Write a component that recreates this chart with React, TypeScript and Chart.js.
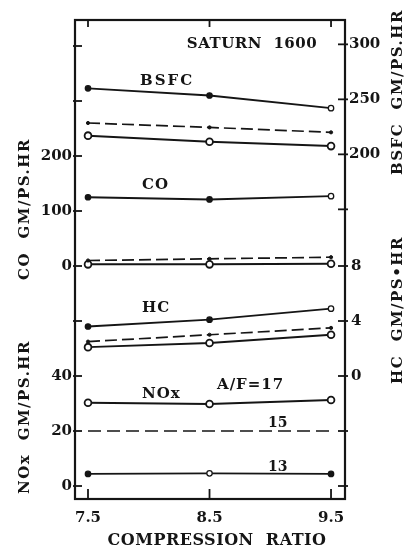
import { useEffect, useRef } from 'react';
import { Chart, registerables } from 'chart.js';

Chart.register(...registerables);

// ---- data ----
const compressionRatio = [7.5, 8.5, 9.5];

const bsfcAF13 = [260, 253.5, 242];
const bsfcAF15 = [228.5, 224.5, 220];
const bsfcAF17 = [217, 211.5, 207.5];

const coAF13 = [125, 121, 127];
const coAF15 = [10, 13, 16];
const coAF17 = [3, 3, 4];

const hcAF13 = [3.6, 4.1, 4.9];
const hcAF15 = [2.5, 3.0, 3.5];
const hcAF17 = [2.1, 2.4, 3.0];

const noxAF13 = [4.4, 4.6, 4.4];
const noxAF15 = [20, 20, 20];
const noxAF17 = [30.3, 29.8, 31.3];

// ---- tick labels / marks ----
const xTicks = [7.5, 8.5, 9.5];
const coTickLabels = [0, 100, 200];
const coTickMarks = [0, 100, 200, 300, 400];
const noxTickLabels = [0, 20, 40];
const noxTickMarks = [0, 20, 40, 60];
const bsfcTickLabels = [200, 250, 300];
const bsfcTickMarks = [150, 200, 250, 300];
const hcTickLabels = [0, 4, 8];
const hcTickMarks = [-8, -4, 0, 4, 8];

const INK = '#151515';
const SERIF = '"DejaVu Serif", serif';

// frame expressed in common grid units (one major division each)
const U_BOT = -13 / 55;
const U_TOP = 466 / 55;
const axisRange = (zeroValue: number, zeroUnit: number, step: number) => ({
  min: zeroValue + step * (U_BOT - zeroUnit),
  max: zeroValue + step * (U_TOP - zeroUnit),
});

const xy = (arr: number[]) => compressionRatio.map((x, i) => ({ x, y: arr[i] }));

const richSeries = (arr: number[], axis: string, fills: string[]) => ({
  data: xy(arr),
  yAxisID: axis,
  borderColor: INK,
  borderWidth: 1.9,
  pointRadius: 2.7,
  pointBorderWidth: 1.3,
  pointBorderColor: INK,
  pointBackgroundColor: fills,
  tension: 0,
});
const midSeries = (arr: number[], axis: string) => ({
  data: xy(arr),
  yAxisID: axis,
  borderColor: INK,
  borderWidth: 1.7,
  borderDash: [12, 5],
  pointRadius: 1.6,
  pointBorderWidth: 1,
  pointBorderColor: INK,
  pointBackgroundColor: INK,
  tension: 0,
});
const leanSeries = (arr: number[], axis: string) => ({
  data: xy(arr),
  yAxisID: axis,
  borderColor: INK,
  borderWidth: 2,
  pointRadius: 3.4,
  pointBorderWidth: 1.8,
  pointBorderColor: INK,
  pointBackgroundColor: '#ffffff',
  tension: 0,
});

const framePlugin = {
  id: 'frameAndText',
  afterDraw(chart: any) {
    const { ctx, chartArea: a, scales } = chart;
    ctx.save();
    const line = (x1: number, y1: number, x2: number, y2: number) => {
      ctx.beginPath();
      ctx.moveTo(x1, y1);
      ctx.lineTo(x2, y2);
      ctx.stroke();
    };
    ctx.strokeStyle = INK;
    ctx.lineWidth = 2.2;
    ctx.strokeRect(a.left, a.top, a.right - a.left, a.bottom - a.top);

    ctx.lineWidth = 1.8;
    xTicks.forEach((v) => {
      const px = scales.x.getPixelForValue(v);
      line(px, a.top, px, a.top + 7);
      line(px, a.bottom, px, a.bottom - 10);
    });
    const leftMarks = (s: any, vals: number[]) =>
      vals.forEach((v) => {
        const py = s.getPixelForValue(v);
        line(a.left - 2, py, a.left + 7, py);
      });
    const rightMarks = (s: any, vals: number[]) =>
      vals.forEach((v) => {
        const py = s.getPixelForValue(v);
        line(a.right - 7, py, a.right + 3, py);
      });
    leftMarks(scales.co, coTickMarks);
    leftMarks(scales.nox, noxTickMarks);
    rightMarks(scales.bsfc, bsfcTickMarks);
    rightMarks(scales.hc, hcTickMarks);

    ctx.fillStyle = INK;
    ctx.textBaseline = 'middle';
    ctx.font = `bold 15px ${SERIF}`;
    ctx.textAlign = 'right';
    coTickLabels.forEach((v) => ctx.fillText(String(v), a.left - 3, scales.co.getPixelForValue(v)));
    noxTickLabels.forEach((v) => ctx.fillText(String(v), a.left - 3, scales.nox.getPixelForValue(v)));
    ctx.textAlign = 'left';
    bsfcTickLabels.forEach((v) => ctx.fillText(String(v), a.right + 4, scales.bsfc.getPixelForValue(v)));
    hcTickLabels.forEach((v) => ctx.fillText(String(v), a.right + 6, scales.hc.getPixelForValue(v)));

    const text = (t: string, x: number, y: number, spacing: number, align: CanvasTextAlign = 'left') => {
      ctx.letterSpacing = `${spacing}px`;
      ctx.textAlign = align;
      ctx.fillText(t, x, y);
    };
    const vtext = (t: string, x: number, y: number, spacing: number) => {
      ctx.save();
      ctx.translate(x, y);
      ctx.rotate(-Math.PI / 2);
      text(t, 0, 0, spacing, 'center');
      ctx.restore();
    };

    ctx.font = `bold 15px ${SERIF}`;
    vtext('CO  GM/PS.HR', 25, 209, 1.5);
    vtext('NOx  GM/PS.HR', 25, 417, 1.5);
    vtext('BSFC  GM/PS.HR', 398, 92, 1.5);
    vtext('HC  GM/PS\u2022HR', 398, 310, 1.5);

    ctx.font = `bold 16px ${SERIF}`;
    text('COMPRESSION  RATIO', 217, 541, 0.5, 'center');

    ctx.font = `bold 15px ${SERIF}`;
    text('SATURN  1600', 252, 44, 0.5, 'center');
    text('BSFC', 140, 81, 2);
    text('CO', 142, 185, 1);
    text('HC', 142, 308, 1);
    text('NOx', 142, 394, 1);
    text('A/F=17', 217, 385, 1);
    ctx.font = `bold 14px ${SERIF}`;
    text('15', 268, 423, 0);
    text('13', 268, 467, 0);
    ctx.restore();
  },
};

export default function App() {
  const ref = useRef<HTMLCanvasElement | null>(null);

  useEffect(() => {
    if (!ref.current) return;
    const filled3 = [INK, INK, '#ffffff'];
    const chart = new Chart(ref.current, {
      type: 'line',
      data: {
        datasets: [
          richSeries(bsfcAF13, 'bsfc', filled3),
          midSeries(bsfcAF15, 'bsfc'),
          leanSeries(bsfcAF17, 'bsfc'),
          richSeries(coAF13, 'co', filled3),
          midSeries(coAF15, 'co'),
          leanSeries(coAF17, 'co'),
          richSeries(hcAF13, 'hc', filled3),
          midSeries(hcAF15, 'hc'),
          leanSeries(hcAF17, 'hc'),
          richSeries(noxAF13, 'nox', [INK, '#ffffff', INK]),
          { ...midSeries(noxAF15, 'nox'), pointRadius: 0, borderDash: [13, 6] },
          leanSeries(noxAF17, 'nox'),
        ] as any,
      },
      options: {
        animation: false,
        responsive: false,
        maintainAspectRatio: false,
        layout: { padding: { left: 75, right: 67, top: 20, bottom: 0 } },
        plugins: { legend: { display: false }, tooltip: { enabled: false } },
        scales: {
          x: {
            type: 'linear',
            position: 'bottom',
            min: 7.393,
            max: 9.615,
            afterBuildTicks: (s: any) => {
              s.ticks = xTicks.map((v) => ({ value: v }));
            },
            afterFit: (s: any) => {
              s.height = 54;
            },
            grid: { display: false },
            border: { display: false },
            ticks: {
              color: INK,
              font: { family: SERIF, size: 15, weight: 'bold' },
              padding: 2,
              maxRotation: 0,
              autoSkip: false,
              callback: (v: any) => Number(v).toFixed(1),
            },
          },
          co: { axis: 'y', position: 'left', type: 'linear', display: false, ...axisRange(0, 4, 100) },
          nox: { axis: 'y', position: 'left', type: 'linear', display: false, ...axisRange(0, 0, 20) },
          bsfc: { axis: 'y', position: 'right', type: 'linear', display: false, ...axisRange(200, 6.03, 50) },
          hc: { axis: 'y', position: 'right', type: 'linear', display: false, ...axisRange(0, 2, 4) },
        } as any,
      },
      plugins: [framePlugin],
    });
    return () => chart.destroy();
  }, []);

  return (
    <div style={{ position: 'fixed', left: 0, top: 0, width: 412, height: 553, background: '#fff' }}>
      <canvas ref={ref} width={412} height={553} style={{ display: 'block' }} />
    </div>
  );
}
